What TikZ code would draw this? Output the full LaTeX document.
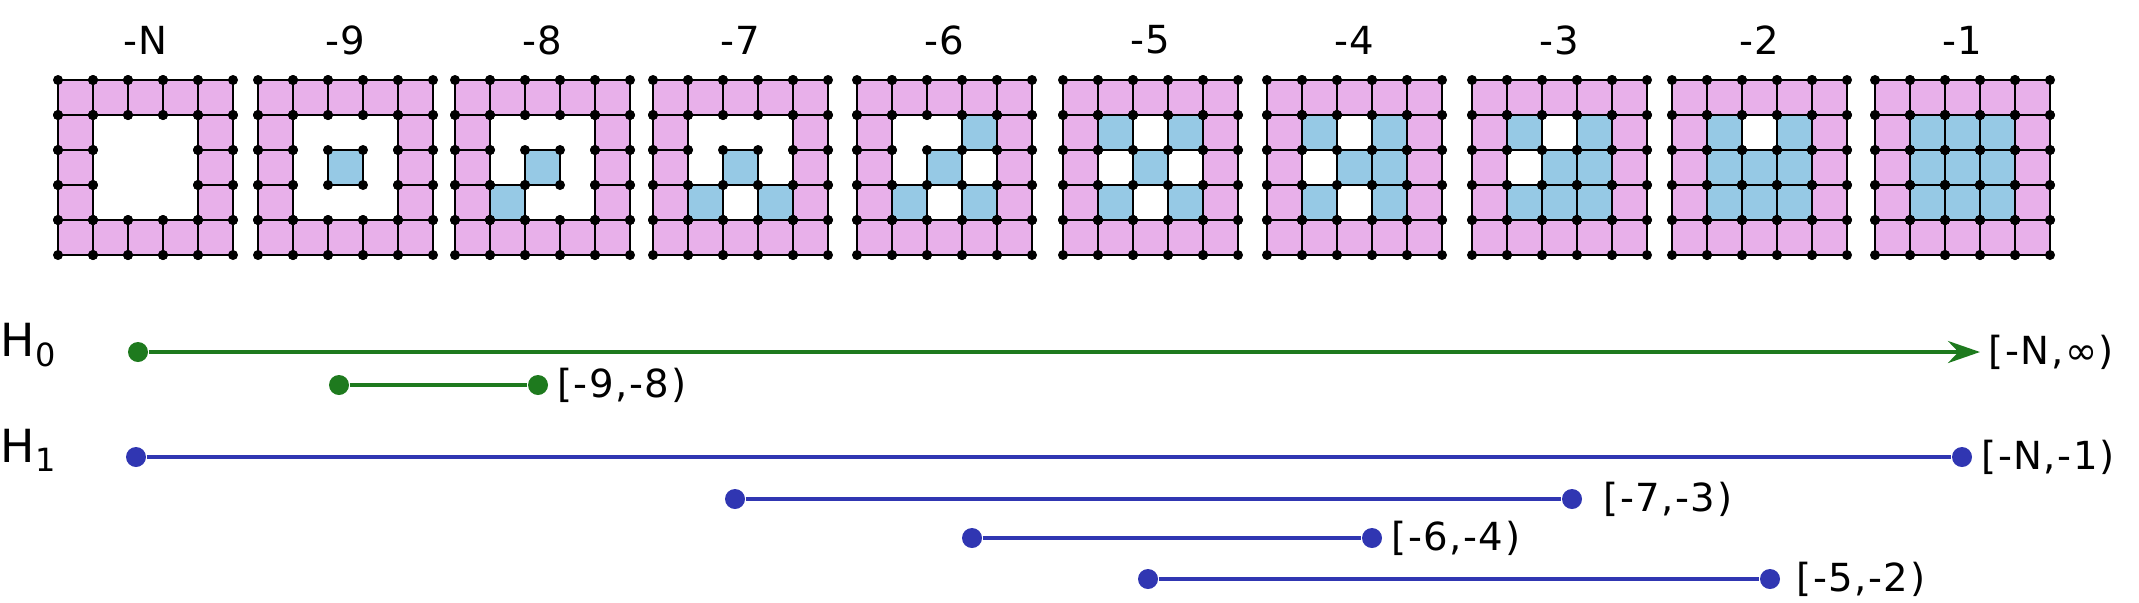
\documentclass[tikz,border=0pt]{standalone}
\usepackage{fontspec}
\setmainfont{DejaVu Sans}[LetterSpace=4]
\usetikzlibrary{arrows.meta}

\definecolor{cellpink}{RGB}{232,176,234}
\definecolor{cellblue}{RGB}{150,201,229}
\definecolor{bargreen}{RGB}{30,122,30}
\definecolor{barblue}{RGB}{48,54,178}

% one cell of a 5x5 grid: style, grid x, column, row
\newcommand\gcell[4]{\draw[#1] (#2+0.35*#3-0.35,-0.45-0.35*#4) rectangle ++(0.35,-0.35);}
% the four corner dots of such a cell
\newcommand\gdots[3]{\foreach \dx in {0,0.35}{\foreach \dy in {0,0.35}{
  \fill (#1+0.35*#2-0.35+\dx,-0.45-0.35*#3-\dy) circle (0.05);}}}

\tikzset{
  ring/.style={draw=black, line width=0.8pt, fill=cellpink},
  hole/.style={draw=black, line width=0.8pt, fill=cellblue},
  ends/.style={circle, fill=#1, inner sep=0pt, minimum size=0.2cm},
  bar/.style={line width=1.1pt},
  val/.style={font=\fontsize{11}{13}\selectfont, inner sep=0pt},
  hom/.style={font=\fontsize{13}{15}\selectfont, inner sep=0pt, anchor=west}
}

\begin{document}
\begin{tikzpicture}
\useasboundingbox (0,0) rectangle (21.39,-6.02);

% the grids with their labels
\foreach \gx/\lab [count=\i] in {0.58/-N,2.58/-9,4.55/-8,6.53/-7,8.57/-6,
    10.63/-5,12.67/-4,14.72/-3,16.72/-2,18.75/-1}{
  \node[val] (t\i) at (\gx+0.875,-0.40) {\lab};
  \foreach \c in {1,...,5}{\foreach \r in {1,...,5}{
    \pgfmathtruncatemacro\isring{(\c==1)||(\c==5)||(\r==1)||(\r==5)}
    \ifnum\isring=1 \gcell{ring}{\gx}{\c}{\r}\fi}}
}
% blue cells
\foreach \gx/\cells in {2.58/{3/3}, 4.55/{3/3,2/4}, 6.53/{3/3,2/4,4/4},
    8.57/{4/2,3/3,2/4,4/4}, 10.63/{2/2,4/2,3/3,2/4,4/4},
    12.67/{2/2,4/2,3/3,4/3,2/4,4/4}, 14.72/{2/2,4/2,3/3,4/3,2/4,3/4,4/4},
    16.72/{2/2,4/2,2/3,3/3,4/3,2/4,3/4,4/4},
    18.75/{2/2,3/2,4/2,2/3,3/3,4/3,2/4,3/4,4/4}}{
  \foreach \c/\r in \cells {\gcell{hole}{\gx}{\c}{\r}}
}
% vertices
\foreach \gx in {0.58,2.58,4.55,6.53,8.57,10.63,12.67,14.72,16.72,18.75}{
  \foreach \c in {1,...,5}{\foreach \r in {1,...,5}{
    \pgfmathtruncatemacro\isring{(\c==1)||(\c==5)||(\r==1)||(\r==5)}
    \ifnum\isring=1 \gdots{\gx}{\c}{\r}\fi}}
}
\foreach \gx/\cells in {2.58/{3/3}, 4.55/{3/3,2/4}, 6.53/{3/3,2/4,4/4},
    8.57/{4/2,3/3,2/4,4/4}, 10.63/{2/2,4/2,3/3,2/4,4/4},
    12.67/{2/2,4/2,3/3,4/3,2/4,4/4}, 14.72/{2/2,4/2,3/3,4/3,2/4,3/4,4/4},
    16.72/{2/2,4/2,2/3,3/3,4/3,2/4,3/4,4/4},
    18.75/{2/2,3/2,4/2,2/3,3/3,4/3,2/4,3/4,4/4}}{
  \foreach \c/\r in \cells {\gdots{\gx}{\c}{\r}}
}

% barcode
\node[hom] (hzero) at (0.0,-3.45) {H\textsubscript{0}};
\node[hom] (hone) at (0.0,-4.50) {H\textsubscript{1}};

\node[ends=bargreen] (a0) at (1.38,-3.52) {};
\coordinate (a1) at (19.80,-3.52);
\node[ends=bargreen] (b0) at (3.39,-3.85) {};
\node[ends=bargreen] (b1) at (5.38,-3.85) {};
\draw[bar, bargreen, -{Stealth[length=0.32cm, width=0.22cm]}] (a0) -- (a1);
\draw[bar, bargreen] (b0) -- (b1);
\node[val, anchor=west] at ([xshift=0.08cm]a1) {[-N,∞)};
\node[val, anchor=west] at ([xshift=0.08cm]b1.east) {[-9,-8)};

\node[ends=barblue] (c0) at (1.36,-4.57) {};
\node[ends=barblue] (c1) at (19.62,-4.57) {};
\node[ends=barblue] (d0) at (7.35,-4.99) {};
\node[ends=barblue] (d1) at (15.72,-4.99) {};
\node[ends=barblue] (e0) at (9.72,-5.38) {};
\node[ends=barblue] (e1) at (13.72,-5.38) {};
\node[ends=barblue] (f0) at (11.48,-5.79) {};
\node[ends=barblue] (f1) at (17.70,-5.79) {};
\foreach \s/\e in {c0/c1,d0/d1,e0/e1,f0/f1}
  \draw[bar, barblue] (\s) -- (\e);
\node[val, anchor=west] at ([xshift=0.08cm]c1.east) {[-N,-1)};
\node[val, anchor=west] at ([xshift=0.2cm]d1.east) {[-7,-3)};
\node[val, anchor=west] at ([xshift=0.08cm]e1.east) {[-6,-4)};
\node[val, anchor=west] at ([xshift=0.15cm]f1.east) {[-5,-2)};
\end{tikzpicture}
\end{document}
